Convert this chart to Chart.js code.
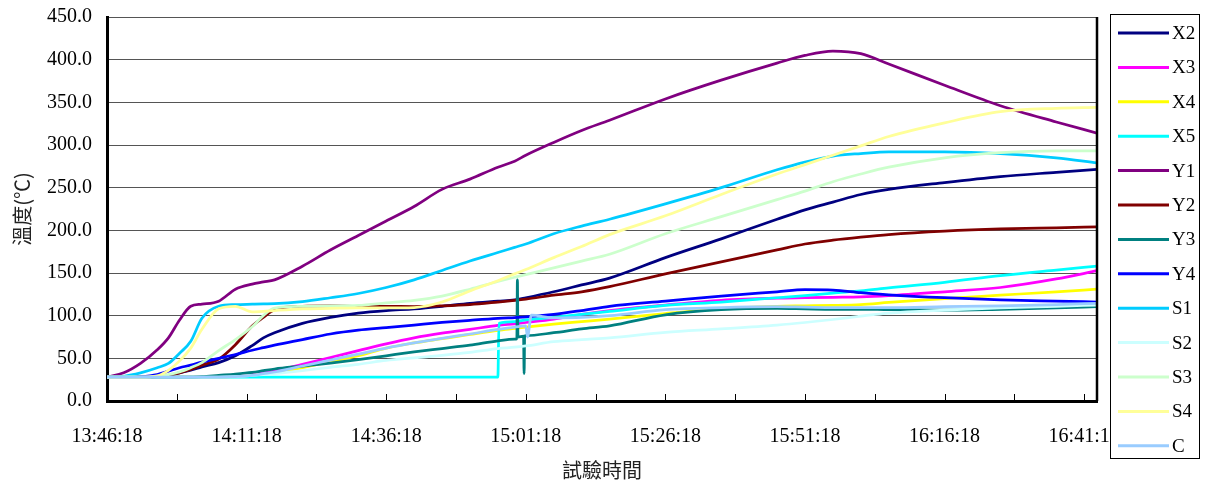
<!DOCTYPE html>
<html><head><meta charset="utf-8">
<script src="https://cdn.jsdelivr.net/npm/chart.js@4.4.0/dist/chart.umd.min.js"></script>
<style>html,body{margin:0;padding:0;background:#fff}#wrap{width:1208px;height:488px}</style>
</head><body><div id="wrap"><canvas id="c" width="1208" height="488"></canvas></div>
<script>
const _ = null;
// minutes after 13:46:18
const minutes = [0,3,6,9,11,13,15,17,20,23,26,28,30,35,40,45,50,55,60,65,70,70.2,73,73.4,73.5,73.6,74.6,74.7,74.8,75,75.3,76,80,85,90,100,110,120,125,130,135,140,150,160,170,177.3];
const xTickLabels = ['13:46:18','14:11:18','14:36:18','15:01:18','15:26:18','15:51:18','16:16:18','16:41:18'];
const yTicks = [0,50,100,150,200,250,300,350,400,450];
const seriesNames = ['X2','X3','X4','X5','Y1','Y2','Y3','Y4','S1','S2','S3','S4','C'];

const X2 = [28,28,28,28.5,30,33,36,40,45,53,65, 74,80,91,98,103,106,108,111,114.5,117, _,118.5,_,_,_,_,_,_,121,_,_, 128,136,144,168,190,213,224,233,242,248,256,263,268,271.5];
const X3 = [28,28,28,28,28,28,28,28,28,29,31, 33,35,43,51,59,67,74,79.5,84,88.5, _,90.5,_,_,_,_,_,_,92,_,_, 96,101.5,106,112.5,118,120.5,121,121.5,122,123.5,128,133,143,152.7];
const X4 = [28,28,28,28,28,28,28,28,28,28.5,30, 31.5,33,39,46,53,62,68,73,78,82.8, _,85,_,_,_,_,_,_,86.5,_,_, 90,93,96,102.5,108,111,111.5,112,113,115.5,120,124,128,131];
const X5 = [28,28,28,28,28,28,28,28,28,28,28, 28,28,28,28,28,28,28,28,28,28, 91,93,_,_,_,_,_,_,95,_,_, 98,101.5,105,112,116,121,123.5,126.5,129,132.5,139,147,153.5,158];
const Y1 = [28,33,44,60,74,95,111,113.5,117,131,137, 139.5,142,158,177,194,211,228,248,260,274, _,281,_,_,_,_,_,_,288,_,_, 303,317,329,354,376,396,405,410,407,395,370,346,327,314];
const Y2 = [28,28,28,28.5,30,33,37,42,49,66,88, 98,107,111,111.5,111,111,110.7,111.5,113,116, _,118,_,_,_,_,_,_,119.5,_,_, 124,128,134,149,163,177,184,188.5,192,195,199,201.6,203,204];
const Y3 = [28,28,28,28,28,28,28,28.5,30,31.5,33.5, 35.5,37.5,41,44.5,48.5,53,57.5,61.5,65.5,70.5, _,72.5,73,142,75,76,32,76,76.5,_,_, 80,84.5,88,101,107,108.5,108,107.5,107.5,107,106.5,107.5,109,110.5];
const Y4 = [28,28,28.5,31,35,39,42,45.5,50,54.5,59.5, 62.5,65.5,72,78.5,83,86,89,92,94.5,96.8, _,97.8,_,_,_,_,_,_,98.5,_,_, 101.5,106,111,117,123,128,130.5,130,127,124.5,121,118.5,117,116];
const S1 = [28,29,33,39,44,56,70,97,111,113,113.5, 113.8,114,116.5,121,126,133,142,153,164,174, _,180,_,_,_,_,_,_,184,_,_, 196,205,213,231,250,271,280,287,290,292,292,290,285,279];
const S2 = [28,28,28,28,28,28,28,28,28,28.5,30, 31,32,35.5,39.5,43,47.5,50.5,53.5,57,61.5, _,63,_,_,_,_,_,_,64.5,_,_, 69.5,72,74,80.5,84.5,89,92,95.5,99.5,103,106.5,109,111,112.5];
const S3 = [28,28,28,29,31,34,39,45,59,72,87, 100,109,111,111.5,112,115,118,123,131,140, _,145,_,_,_,_,_,_,148,_,_, 156,164,172,196,216,236,246,257,266,274,285,291,293,293];
const S4 = [28,28,28,29.5,36,47,62,84,108,111,104.5, 105,106,108,108.5,109,109,109.5,116,129,141, _,149,_,_,_,_,_,_,154,_,_, 168,181,195,217,242,266,277,288,299,310,326,339,343,344];
const C  = [28,28,28,28,28,28,28,28,28,28.5,30, 32,34,41,48,55,62,68,73.5,78.5,84, _,86.5,_,_,_,_,_,_,88,75,100.5, 97.5,98,100,107,109.5,110.5,110,109.5,109.5,109.5,110.5,111.5,113,114.5];

const seriesValues = [X2,X3,X4,X5,Y1,Y2,Y3,Y4,S1,S2,S3,S4,C];
const seriesColors = ['#000080','#FF00FF','#FFFF00','#00FFFF','#800080','#800000','#008080','#0000FF','#00CCFF','#CCFFFF','#CCFFCC','#FFFF99','#99CCFF'];

const toPoints = vals => minutes.map((m,i)=>({x:m,y:vals[i]})).filter(p=>p.y!==null);

const datasets = seriesNames.map((n,i)=>({
  label:n, data:toPoints(seriesValues[i]),
  borderColor:seriesColors[i], backgroundColor:seriesColors[i],
  borderWidth:2.75, pointRadius:0, cubicInterpolationMode:'monotone',
  order: 20 - i
}));

const serif = 'Liberation Serif, Times New Roman, serif';
const cjk = 'Noto Sans CJK TC, Noto Sans CJK SC, sans-serif';

const framePlugin = {
  id:'frame',
  afterDraw(chart){
    const ctx = chart.ctx, a = chart.chartArea, xs = chart.scales.x;
    ctx.save();
    ctx.strokeStyle = '#000'; ctx.lineWidth = 1;
    xs.ticks.forEach(t=>{
      const px = Math.round(xs.getPixelForValue(t.value)) + 0.5;
      ctx.beginPath(); ctx.moveTo(px, a.bottom); ctx.lineTo(px, a.bottom - 7); ctx.stroke();
    });
    ctx.lineWidth = 2.5;
    ctx.beginPath(); ctx.moveTo(a.right, a.top); ctx.lineTo(a.right, a.bottom); ctx.stroke();
    const L = 1110, T = 14, W = 89, H = 444;
    ctx.fillStyle = '#fff';
    ctx.fillRect(L, T, W, H);
    ctx.lineWidth = 1; ctx.strokeStyle = '#000';
    ctx.strokeRect(L + 0.5, T + 0.5, W, H);
    ctx.font = '19px ' + serif;
    ctx.textBaseline = 'middle'; ctx.textAlign = 'left';
    chart.data.datasets.forEach((d,i)=>{
      const y = T + 19 + i * 34.4;
      ctx.strokeStyle = d.borderColor; ctx.lineWidth = 3;
      ctx.beginPath(); ctx.moveTo(L + 8, y); ctx.lineTo(L + 59, y); ctx.stroke();
      ctx.fillStyle = '#000';
      ctx.fillText(d.label, L + 62, y + 1);
    });
    ctx.restore();
  }
};

new Chart(document.getElementById('c'), {
  type:'line',
  data:{datasets},
  plugins:[framePlugin],
  options:{
    responsive:false, animation:false, events:[],
    layout:{padding:{top:17, right:111, bottom:0, left:0}},
    plugins:{legend:{display:false}, tooltip:{enabled:false}},
    scales:{
      x:{
        type:'linear', min:0, max:177.3,
        ticks:{stepSize:12.5, includeBounds:false, autoSkip:false, maxRotation:0, minRotation:0, padding:24,
          font:{family:serif, size:20}, color:'#000',
          callback:v => (Math.abs(v % 25) < 1e-6) ? xTickLabels[Math.round(v/25)] : ''},
        grid:{drawOnChartArea:false, drawTicks:false},
        border:{color:'#000', width:3},
        title:{display:true, text:'試驗時間', font:{family:cjk, size:20}, color:'#222', padding:{top:0, bottom:6}},
        afterFit:s=>{ s.height = 87; s.paddingLeft = 0; s.paddingRight = 0; }
      },
      y:{
        min:0, max:450,
        afterBuildTicks:s=>{ s.ticks = yTicks.map(v=>({value:v})); },
        ticks:{padding:15, font:{family:serif, size:20}, color:'#000', callback:v => Number(v).toFixed(1)},
        grid:{color:'#555', lineWidth:1, drawTicks:false},
        border:{color:'#000', width:3},
        title:{display:true, text:'溫度(℃)', font:{family:cjk, size:20}, color:'#222', padding:{top:10, bottom:0}},
        afterFit:s=>{ s.width = 107; s.paddingTop = 0; s.paddingBottom = 0; }
      }
    }
  }
});
</script></body></html>
